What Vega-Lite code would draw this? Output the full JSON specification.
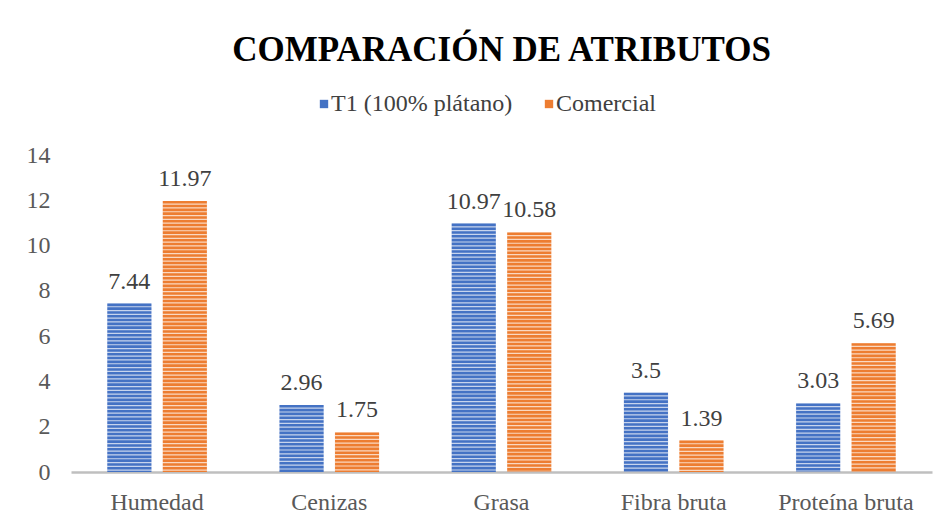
{
  "$schema": "https://vega.github.io/schema/vega-lite/v6.json",
  "width": 861,
  "height": 317,
  "autosize": {"type": "none"},
  "padding": {"left": 71, "top": 155, "right": 19, "bottom": 55},
  "background": "white",
  "title": {
    "text": "COMPARACIÓN DE ATRIBUTOS",
    "font": "Liberation Serif",
    "fontSize": 35,
    "fontWeight": "bold",
    "color": "#000000",
    "anchor": "middle",
    "offset": 24
  },
  "data": {
    "values": [
      {"atributo": "Humedad", "serie": "T1 (100% plátano)", "valor": 7.44},
      {"atributo": "Humedad", "serie": "Comercial", "valor": 11.97},
      {"atributo": "Cenizas", "serie": "T1 (100% plátano)", "valor": 2.96},
      {"atributo": "Cenizas", "serie": "Comercial", "valor": 1.75},
      {"atributo": "Grasa", "serie": "T1 (100% plátano)", "valor": 10.97},
      {"atributo": "Grasa", "serie": "Comercial", "valor": 10.58},
      {"atributo": "Fibra bruta", "serie": "T1 (100% plátano)", "valor": 3.5},
      {"atributo": "Fibra bruta", "serie": "Comercial", "valor": 1.39},
      {"atributo": "Proteína bruta", "serie": "T1 (100% plátano)", "valor": 3.03},
      {"atributo": "Proteína bruta", "serie": "Comercial", "valor": 5.69}
    ]
  },
  "encoding": {
    "x": {
      "field": "atributo",
      "type": "nominal",
      "sort": ["Humedad", "Cenizas", "Grasa", "Fibra bruta", "Proteína bruta"],
      "scale": {"paddingInner": 0.42, "paddingOuter": 0.21},
      "axis": {
        "title": null,
        "labelAngle": 0,
        "labelFont": "Liberation Serif",
        "labelFontSize": 24,
        "labelColor": "#595959",
        "labelPadding": 18,
        "ticks": false,
        "domainColor": "#bfbfbf",
        "domainWidth": 2.5,
        "grid": false
      }
    },
    "xOffset": {
      "field": "serie",
      "type": "nominal",
      "sort": ["T1 (100% plátano)", "Comercial"],
      "scale": {"paddingInner": 0.2, "paddingOuter": 0}
    },
    "y": {
      "field": "valor",
      "type": "quantitative",
      "scale": {"domain": [0, 14], "nice": false},
      "axis": {
        "title": null,
        "values": [0, 2, 4, 6, 8, 10, 12, 14],
        "labelFont": "Liberation Serif",
        "labelFontSize": 24,
        "labelColor": "#595959",
        "labelPadding": 21,
        "ticks": false,
        "domain": false,
        "grid": false
      }
    },
    "color": {
      "field": "serie",
      "type": "nominal",
      "sort": ["T1 (100% plátano)", "Comercial"],
      "scale": {"domain": ["T1 (100% plátano)", "Comercial"], "range": ["#4472C4", "#ED7D31"]},
      "legend": {
        "title": null,
        "orient": "none",
        "direction": "horizontal",
        "legendX": 241,
        "legendY": -63,
        "symbolType": "square",
        "symbolSize": 70,
        "symbolOpacity": 1,
        "symbolStrokeWidth": 0,
        "labelFont": "Liberation Serif",
        "labelFontSize": 24,
        "labelColor": "#404040",
        "labelLimit": 400,
        "labelOffset": -5,
        "columnPadding": 24
      }
    }
  },
  "layer": [
    {
      "mark": {"type": "bar", "fillOpacity": 0.3}
    },
    {
      "mark": {"type": "rule", "strokeWidth": 44, "strokeDash": [2.6, 1.2], "strokeCap": "butt"},
      "encoding": {
        "y2": {"datum": 0}
      }
    },
    {
      "mark": {"type": "text", "baseline": "alphabetic", "dy": -15, "font": "Liberation Serif", "fontSize": 24, "color": "#404040"},
      "encoding": {
        "text": {"field": "valor", "type": "quantitative"},
        "color": {"value": "#404040"}
      }
    }
  ],
  "config": {"font": "Liberation Serif", "view": {"stroke": null}}
}
